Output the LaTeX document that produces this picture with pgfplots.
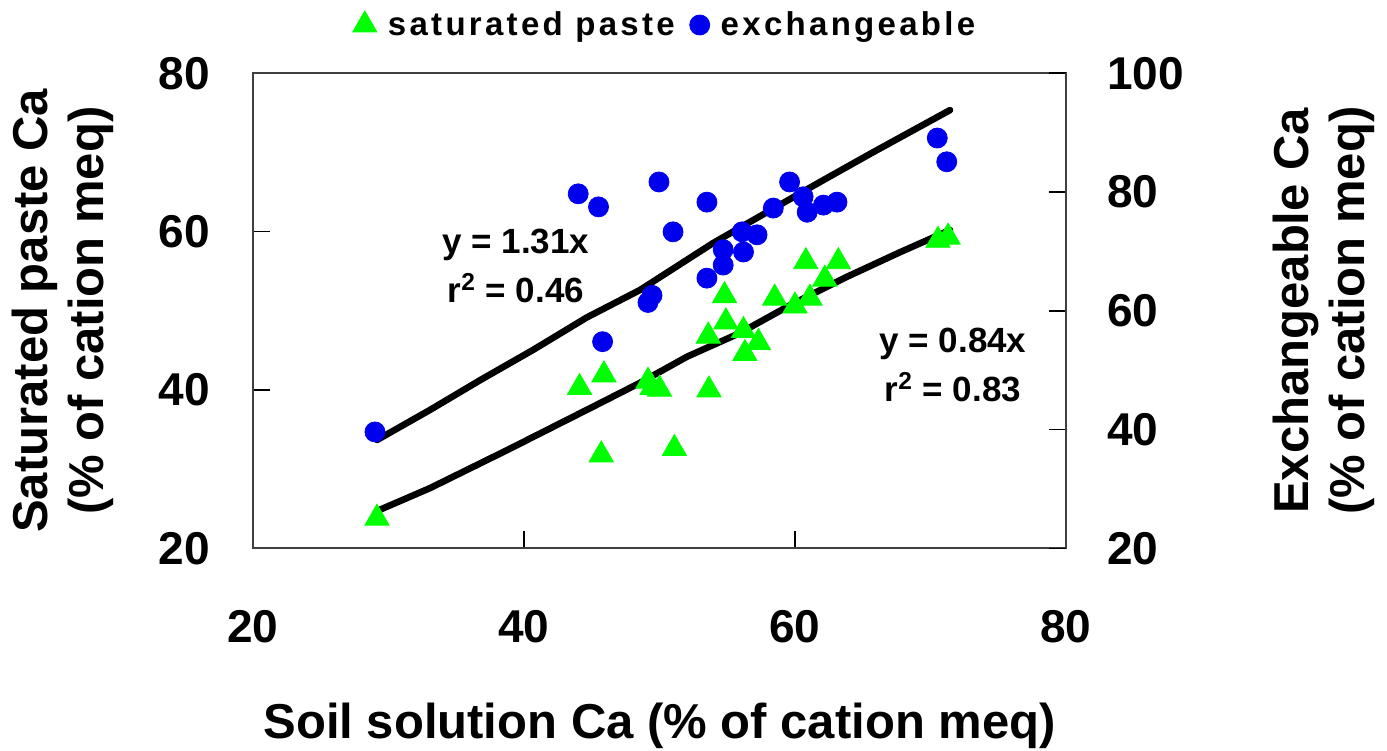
\documentclass[border=0pt]{standalone}
\usepackage{fontspec}
\setmainfont{Liberation Sans}
\newfontfamily\legfont{Liberation Sans}[LetterSpace=10]
\usepackage{pgfplots}
\pgfplotsset{compat=1.18}
\definecolor{mygreen}{RGB}{0,255,0}
\definecolor{myblue}{RGB}{0,0,238}
\begin{document}
\begin{tikzpicture}
\useasboundingbox (-126.5pt,-100.85pt) rectangle (567pt,274.15pt);
\begin{axis}[
  scale only axis, width=406.5pt, height=237.5pt,
  xmin=20, xmax=80, ymin=20, ymax=80,
  xtick={20,40,60,80}, ytick={20,40,60,80},
  xtick pos=bottom, ytick pos=left,
  tick align=inside, major tick length=8.5pt,
  tick style={black, line width=0.8pt},
  axis line style={black!75, line width=1pt},
  /pgf/number format/assume math mode=true,
  tick label style={font=\fontsize{23}{23}\selectfont\bfseries, inner sep=0pt},
  xticklabel style={anchor=north, yshift=-31pt},
  yticklabel style={anchor=east, xshift=-21.5pt},
  xlabel={Soil solution Ca (\% of cation meq)},
  xlabel style={at={(axis description cs:0.5,-0.3994)}, anchor=base, font=\fontsize{24.5}{24.5}\selectfont\bfseries},
  ylabel={Saturated paste Ca\\(\% of cation meq)},
  ylabel style={at={(axis description cs:-0.2337,0.5)}, anchor=center, align=center, font=\fontsize{24.5}{28}\selectfont\bfseries},
  legend columns=2,
  legend style={at={(axis description cs:0.508,1.1017)}, anchor=center, draw=none, fill=none,
    font=\fontsize{16.5}{16.5}\selectfont\legfont\bfseries,
    /tikz/every odd column/.append style={column sep=3.5pt},
    /tikz/every even column/.append style={column sep=5.5pt}},
  clip=false,
]
\addplot[only marks, mark=triangle*, mark size=7pt, color=mygreen] coordinates {
(29.15,23.8) (44.1,40.3) (45.9,41.9) (45.7,31.8) (49.15,41.1) (49.45,40.3)
(50.0,40.1) (51.1,32.6) (53.6,46.8) (53.65,40.0) (54.8,51.9) (54.9,48.6)
(56.2,47.5) (56.3,44.6) (57.3,46.0) (58.5,51.6) (60.0,50.6) (60.8,56.2)
(61.1,51.6) (62.2,54.0) (63.2,56.2) (70.55,58.9) (71.3,59.3)
};
\addlegendentry{saturated paste}
\addlegendimage{only marks, mark=*, mark size=5pt, color=myblue}
\addlegendentry{exchangeable}
\addplot[black, line width=3.3pt, line cap=round, line join=round, forget plot] coordinates {
(29.15,24.71) (33.06,27.6) (38.75,32.4) (44.65,37.5) (48.56,40.9) (52.03,44.2)
(55.94,47.2) (59.63,50.7) (63.84,54.3) (67.75,57.4) (71.44,60.2)
};
\node[align=center, font=\fontsize{17.5}{24.5}\selectfont\bfseries] at (axis cs:39.4,55.66) {y = 1.31x\\r\textsuperscript{2} = 0.46};
\node[align=center, font=\fontsize{17.5}{24.5}\selectfont\bfseries] at (axis cs:71.66,43.15) {y = 0.84x\\r\textsuperscript{2} = 0.83};
\end{axis}
\begin{axis}[
  scale only axis, width=406.5pt, height=237.5pt,
  xmin=20, xmax=80, ymin=20, ymax=100,
  ytick={20,40,60,80,100},
  axis x line=none, axis y line*=right,
  ytick pos=right,
  tick align=inside, major tick length=8.5pt,
  tick style={black, line width=0.8pt},
  axis line style={black!75, line width=1pt},
  /pgf/number format/assume math mode=true,
  tick label style={font=\fontsize{23}{23}\selectfont\bfseries, inner sep=0pt},
  yticklabel style={anchor=west, xshift=20.5pt},
  ylabel={Exchangeable Ca\\(\% of cation meq)},
  ylabel style={at={(axis description cs:1.3167,0.5)}, anchor=center, align=center, font=\fontsize{24.5}{28}\selectfont\bfseries},
  clip=false,
]
\addplot[only marks, mark=*, mark size=5pt, color=myblue] coordinates {
(29.0,39.6) (44.0,79.7) (45.5,77.5) (45.8,54.8) (49.96,81.7) (53.5,78.3)
(51.0,73.3) (59.6,81.7) (60.6,79.2) (58.4,77.3) (60.9,76.6) (62.1,77.8)
(63.1,78.3) (56.1,73.3) (57.2,72.8) (54.7,70.3) (56.2,69.9) (54.7,67.7)
(53.5,65.5) (49.45,62.6) (49.15,61.4) (70.5,89.1) (71.2,85.1)
};
\addplot[black, line width=3.3pt, line cap=round, line join=round] coordinates {
(29.15,38.24) (33.06,43.3) (36.75,48.3) (40.66,53.4) (44.65,58.9) (48.56,63.5)
(53.95,71.4) (57.93,76.6) (61.85,81.7) (65.76,86.7) (71.44,93.8)
};
\end{axis}
\end{tikzpicture}
\end{document}
